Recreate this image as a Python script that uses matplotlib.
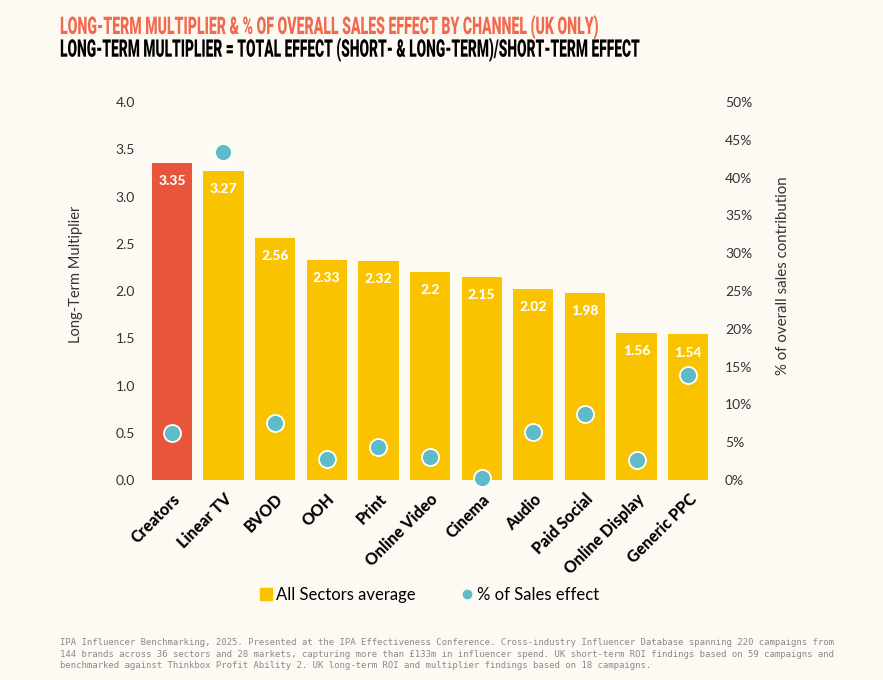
import matplotlib
matplotlib.use("Agg")
import matplotlib.pyplot as plt
from matplotlib.lines import Line2D
from matplotlib.transforms import Affine2D
from matplotlib.patheffects import AbstractPathEffect

channels = ["Creators", "Linear TV", "BVOD", "OOH", "Print", "Online Video",
            "Cinema", "Audio", "Paid Social", "Online Display", "Generic PPC"]
multiplier = [3.35, 3.27, 2.56, 2.33, 2.32, 2.2, 2.15, 2.02, 1.98, 1.56, 1.54]
sales_pct = [6.2, 43.4, 7.6, 2.8, 4.4, 3.1, 0.2, 6.4, 8.7, 2.6, 13.9]
left_ticks = [0.0, 0.5, 1.0, 1.5, 2.0, 2.5, 3.0, 3.5, 4.0]
right_ticks = [0, 5, 10, 15, 20, 25, 30, 35, 40, 45, 50]
title1 = "LONG-TERM MULTIPLIER & % OF OVERALL SALES EFFECT BY CHANNEL (UK ONLY)"
title2 = "LONG-TERM MULTIPLIER = TOTAL EFFECT (SHORT- & LONG-TERM)/SHORT-TERM EFFECT"
legend_labels = ["All Sectors average", "% of Sales effect"]

BG = "#FDFAF3"
YELLOW = "#F9C300"
RED = "#E8553B"
TEAL = "#5DBCC7"
TXT = "#333333"


class VStretch(AbstractPathEffect):
    """Draw glyphs stretched vertically about the baseline (condensed look)."""
    def __init__(self, sy):
        super().__init__()
        self.sy = sy

    def draw_path(self, renderer, gc, tpath, affine, rgbFace=None):
        renderer.draw_path(gc, tpath, Affine2D().scale(1.0, self.sy) + affine, rgbFace)


fig = plt.figure(figsize=(8.83, 6.8), dpi=100, facecolor=BG)
ax = fig.add_axes([0.1654, 0.2941, 0.6432, 0.5559])
ax.set_facecolor(BG)
x = list(range(len(channels)))
colors = [RED] + [YELLOW] * (len(channels) - 1)
ax.bar(x, multiplier, width=0.78, color=colors, zorder=2)
ax.set_xlim(-0.5, len(channels) - 0.5)
ax.set_ylim(0, 4.0)
ax.set_yticks(left_ticks)
ax.set_yticklabels([f"{t:.1f}" for t in left_ticks], fontsize=10, color=TXT, family="Lato")
ax.set_xticks(x)
ax.set_xticklabels(channels, rotation=45, ha="right", va="top", rotation_mode="anchor",
                   fontsize=11.5, fontweight="black", family="Lato", color="black")
ax.tick_params(length=0, pad=8)
ax.tick_params(axis="x", pad=8)
for s in ax.spines.values():
    s.set_visible(False)
ax.set_ylabel("Long-Term Multiplier", fontsize=10.5, family="Lato", color=TXT)
ax.yaxis.set_label_coords(-0.111, 0.545)

for xi, v in zip(x, multiplier):
    ax.annotate(f"{v:g}", (xi, v), xytext=(0, -13), textcoords="offset points",
                ha="center", va="center", color="white", fontsize=10,
                fontweight="black", family="Lato", zorder=3)

ax2 = ax.twinx()
ax2.set_ylim(0, 50)
ax2.set_yticks(right_ticks)
ax2.set_yticklabels([f"{t}%" for t in right_ticks], fontsize=10, color=TXT, family="Lato")
ax2.tick_params(length=0, pad=8)
for s in ax2.spines.values():
    s.set_visible(False)
ax2.scatter(x, sales_pct, s=150, color=TEAL, edgecolor="white", linewidth=1.3, zorder=4,
            clip_on=False)
ax2.set_ylabel("% of overall sales contribution", fontsize=10.8, family="Lato", color=TXT)
ax2.yaxis.set_label_coords(1.109, 0.54)

handles = [Line2D([], [], marker="s", linestyle="none", markersize=9, color=YELLOW),
           Line2D([], [], marker="o", linestyle="none", markersize=6, color=TEAL)]
fig.legend(handles, legend_labels, loc="center",
           bbox_to_anchor=(0.485, 0.125), ncol=2, frameon=False,
           prop={"family": "Lato", "size": 12}, handletextpad=0.1, columnspacing=2.6,
           handlelength=1.0)

renderer = fig.canvas.get_renderer()
GLYPH_PT = 17.5
for txt, ybase, col, target in [(title1, 0.950, "#F26A4E", 539), (title2, 0.9166, "black", 580)]:
    t = fig.text(0.068, ybase, txt, color=col, fontsize=GLYPH_PT, fontweight="black",
                 family="Roboto", ha="left", va="baseline")
    w = t.get_window_extent(renderer).width
    fs = GLYPH_PT * target / w
    t.set_fontsize(fs)
    t.set_path_effects([VStretch(GLYPH_PT / fs)])

foot = ("IPA Influencer Benchmarking, 2025. Presented at the IPA Effectiveness Conference. Cross-industry Influencer Database spanning 220 campaigns from\n"
        "144 brands across 36 sectors and 28 markets, capturing more than £133m in influencer spend. UK short-term ROI findings based on 59 campaigns and\n"
        "benchmarked against Thinkbox Profit Ability 2. UK long-term ROI and multiplier findings based on 18 campaigns.")
fig.text(0.068, 0.038, foot, color="#8a8a8a", fontsize=6.48, family="DejaVu Sans Mono",
         va="center", ha="left", linespacing=1.35)

fig.savefig("out.png", dpi=100, facecolor=BG)
